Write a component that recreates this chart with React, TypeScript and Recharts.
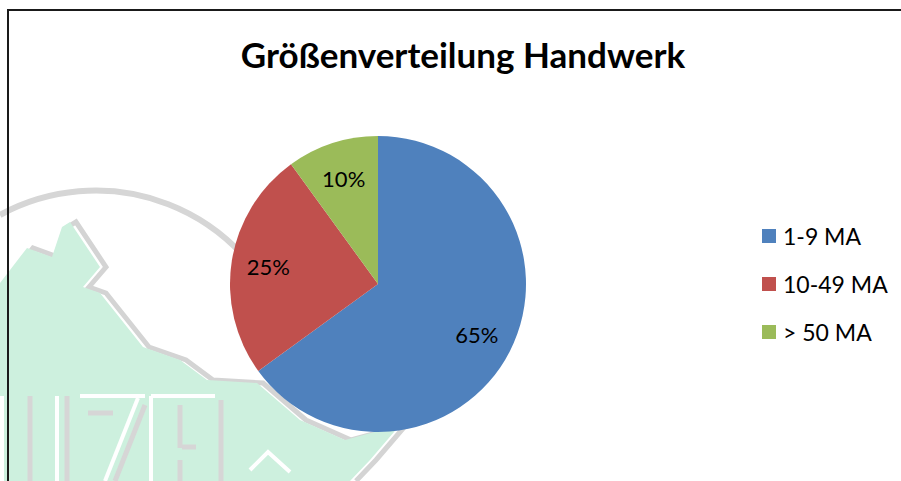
import React from "react";
import { PieChart, Pie, Cell, Legend } from "recharts";

// Betriebsgrößen im Handwerk, Anteil in Prozent
const categories = ["1-9 MA", "10-49 MA", "> 50 MA"];
const shares = [65, 25, 10];
const colors = ["#4f81bd", "#c0504d", "#9bbb59"];

const data = categories.map((name, i) => ({ name, value: shares[i] }));

const FONT = "Lato, 'Open Sans', sans-serif";
const RADIAN = Math.PI / 180;

// Excel puts the data labels roughly three quarters out from the centre
const renderLabel = (props: any) => {
  const { cx, cy, midAngle, outerRadius, value } = props;
  const r = outerRadius * 0.75;
  const x = cx + r * Math.cos(-midAngle * RADIAN);
  const y = cy + r * Math.sin(-midAngle * RADIAN);
  return (
    <text x={x} y={y} textAnchor="middle" dominantBaseline="central" fill="#000" fontSize={22} fontFamily={FONT}>
      {`${value}%`}
    </text>
  );
};

const renderLegend = (props: any) => {
  const { payload } = props;
  return (
    <div style={{ fontFamily: FONT, fontSize: 23, color: "#000" }}>
      {payload.map((entry: any, i: number) => (
        <div key={i} style={{ display: "flex", alignItems: "center", height: 48 }}>
          <span style={{ width: 14, height: 14, background: entry.color, marginRight: 7, display: "inline-block" }} />
          <span>{entry.value}</span>
        </div>
      ))}
    </div>
  );
};

// faded logo in the background of the original slide
function Watermark() {
  const ridge =
    "0,283 20,257 27,248 52,257 62,227 70,222 100,267 83,287 100,293 143,347 180,360 207,380 257,383 300,420 345,440 400,425 370,460 350,481";
  return (
    <svg width={901} height={481} style={{ position: "absolute", left: 0, top: 0 }}>
      <path d="M 0 215 A 200 200 0 0 1 285 326" fill="none" stroke="#d6d6d6" strokeWidth={6} />
      <polyline points={ridge} transform="translate(6,0)" fill="none" stroke="#d4d4d4" strokeWidth={5} />
      <polygon points={ridge + " 0,481"} fill="#cdf0de" />
      <g stroke="#d6d6d6" strokeWidth={5} fill="none">
        <line x1={30} y1={396} x2={30} y2={481} />
        <line x1={67} y1={396} x2={67} y2={481} />
        <line x1={88} y1={413} x2={113} y2={413} />
        <line x1={145} y1={405} x2={115} y2={481} />
        <line x1={180} y1={405} x2={180} y2={448} />
        <line x1={180} y1={460} x2={180} y2={481} />
        <line x1={182} y1={447} x2={196} y2={447} />
        <line x1={221} y1={400} x2={221} y2={481} />
      </g>
      <g stroke="#ffffff" strokeWidth={4} fill="none">
        <line x1={2} y1={396} x2={2} y2={481} />
        <line x1={57} y1={396} x2={57} y2={481} />
        <line x1={80} y1={396} x2={145} y2={396} />
        <line x1={138} y1={398} x2={105} y2={481} />
        <line x1={151} y1={396} x2={151} y2={481} />
        <line x1={151} y1={396} x2={215} y2={396} />
        <polyline points="250,470 268,452 290,472" />
      </g>
    </svg>
  );
}

export default function App() {
  return (
    <div style={{ position: "absolute", left: 0, top: 0, width: 901, height: 481, background: "#fff", overflow: "hidden" }}>
      <Watermark />
      <div
        style={{
          position: "absolute",
          left: 7,
          top: 9,
          width: 1000,
          height: 600,
          borderLeft: "2px solid #1a1a1a",
          borderTop: "2px solid #1a1a1a",
        }}
      />
      <div
        style={{
          position: "absolute",
          left: 0,
          top: 33,
          width: 926,
          textAlign: "center",
          fontFamily: FONT,
          fontWeight: 700,
          fontSize: 35,
          color: "#000",
        }}
      >
        Größenverteilung Handwerk
      </div>
      <div style={{ position: "absolute", left: 0, top: 0 }}>
        <PieChart width={901} height={481} margin={{ top: 0, right: 0, bottom: 0, left: 0 }}>
          <Pie
            data={data}
            dataKey="value"
            nameKey="name"
            cx={378}
            cy={284}
            outerRadius={148}
            startAngle={90}
            endAngle={-270}
            stroke="none"
            label={renderLabel}
            labelLine={false}
            isAnimationActive={false}
          >
            {data.map((d, i) => (
              <Cell key={d.name} fill={colors[i]} />
            ))}
          </Pie>
          <Legend
            layout="vertical"
            align="right"
            verticalAlign="top"
            content={renderLegend}
            wrapperStyle={{ left: 762, top: 212, width: 140 }}
          />
        </PieChart>
      </div>
    </div>
  );
}
